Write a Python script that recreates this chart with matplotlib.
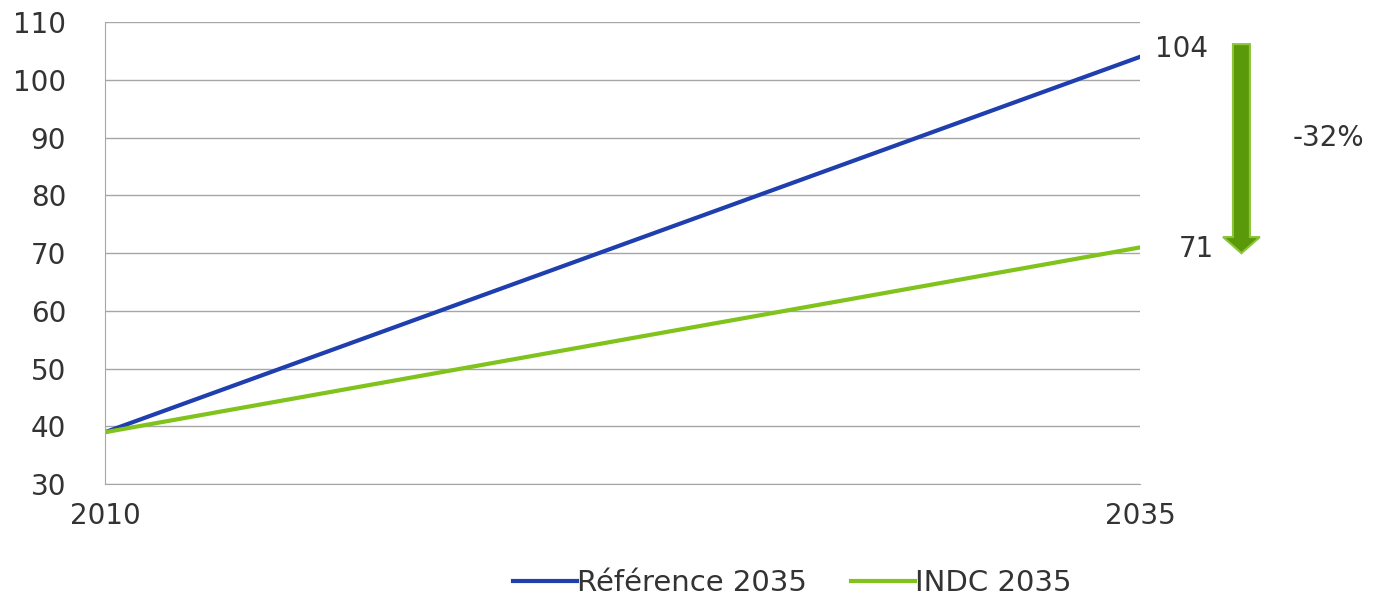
import numpy as np
import matplotlib.pyplot as plt
from matplotlib.patches import FancyArrow

years = [2010, 2035]
reference = [39, 104]
indc = [39, 71]
change_label = '-32%'

blue = '#1f3fae'
green = '#7fc31c'
txt = '#333333'

fig = plt.figure(figsize=(13.75, 6), dpi=100)
ax = fig.add_axes([0.0764, 0.193, 0.7527, 0.77])

ax.plot(years, reference, color=blue, lw=3, label='Référence 2035')
ax.plot(years, indc, color=green, lw=3, label='INDC 2035')

ax.set_xlim(2010, 2035)
ax.set_ylim(30, 110)
ax.set_yticks(np.arange(30, 111, 10))
ax.set_xticks(years)
ax.grid(axis='y', color='#a6a6a6', lw=1)
ax.set_axisbelow(True)
for s in ['top', 'right']:
    ax.spines[s].set_visible(False)
for s in ['left', 'bottom']:
    ax.spines[s].set_color('#a6a6a6')
ax.tick_params(length=0, labelsize=20, colors=txt)
ax.tick_params(axis='y', pad=28)
ax.tick_params(axis='x', pad=13)

# end labels
ax.text(2036.0, reference[1] + 1.8, str(reference[1]), fontsize=20, color=txt,
        va='center_baseline', ha='center', clip_on=False)
ax.text(2036.35, indc[1] + 0.2, str(indc[1]), fontsize=20, color=txt,
        va='center_baseline', ha='center', clip_on=False)

# arrow between the two values
arr = FancyArrow(2037.45, 106.2, 0, -(106.2 - 70.0), width=0.41, head_width=0.89,
                 head_length=2.8, length_includes_head=True,
                 facecolor='#5a9a08', edgecolor='#8cc43a', lw=1.5,
                 clip_on=False)
ax.add_patch(arr)
ax.text(2039.56, 90.4, change_label, fontsize=20, color=txt,
        va='center_baseline', ha='center', clip_on=False)

leg = fig.legend(loc='center', bbox_to_anchor=(0.576, 0.028), ncol=2,
                 frameon=False, fontsize=21, handlelength=2.2,
                 handletextpad=0.0, columnspacing=1.5)
for t in leg.get_texts():
    t.set_color(txt)

fig.savefig('out.png', dpi=100, facecolor='white')
